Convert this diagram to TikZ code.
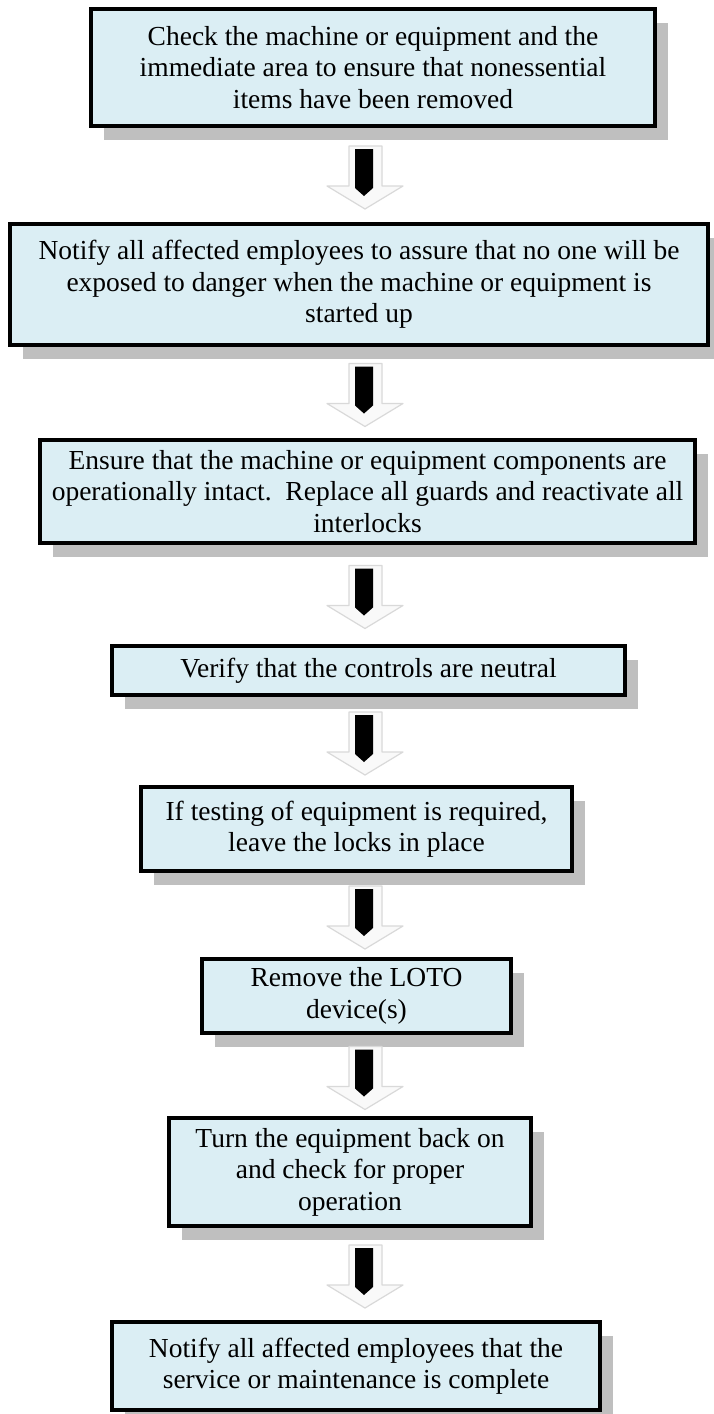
\documentclass[tikz,border=0pt]{standalone}
\usepackage{fontspec}
\setmainfont{Liberation Serif}
\usetikzlibrary{calc,shadows}
\definecolor{boxfill}{HTML}{DBEEF4}
\definecolor{shadowgray}{HTML}{BFBFBF}
\tikzset{
  stepbox/.style={draw=black, line width=4pt, fill=boxfill, align=center,
    inner sep=0pt, font=\fontsize{27.5}{31.5}\selectfont,
    drop shadow={shadow xshift=13pt, shadow yshift=-14pt, fill=shadowgray, opacity=1}},
  arrlight/.style={fill=gray!5, draw=gray!30, line width=1.2pt, line join=round},
  arrdark/.style={fill=black},
}
% block arrow centred (plus 4) between the two boxes, fixed length
\newcommand\flowarr[2]{%
  \coordinate (#1-mid) at ($(365,0 |- #1.south)!0.5!(365,0 |- #2.north)+(0,4)$);
  \coordinate (#1-out) at ($(#1-mid)+(0,-33)$);
  \coordinate (#2-in) at ($(#1-mid)+(0,30)$);
  \filldraw[arrlight] ($(#1-out)+(-16,0)$) -- ($(#1-out)+(17,0)$) -- ($(#2-in)+(17,-23)$)
     -- ($(#2-in)+(38,-23)$) -- (#2-in) -- ($(#2-in)+(-38,-23)$) -- ($(#2-in)+(-16,-23)$) -- cycle;
  \fill[arrdark] ($(#1-out)+(-10,3)$) -- ($(#1-out)+(8,3)$) -- ($(#2-in)+(8,-21)$)
     -- ($(#2-in)+(-1,-13)$) -- ($(#2-in)+(-10,-21)$) -- cycle;
}
\begin{document}
\begin{tikzpicture}[x=1pt,y=-1pt]
\useasboundingbox (0,0) rectangle (713,1414);
\node[stepbox, minimum width=564pt, minimum height=117pt] (b1) at (373,67.5)
  {Check the machine or equipment and the\\immediate area to ensure that nonessential\\items have been removed};
\node[stepbox, minimum width=698pt, minimum height=121pt] (b2) at (359,284.5)
  {Notify all affected employees to assure that no one will be\\exposed to danger when the machine or equipment is\\started up};
\node[stepbox, minimum width=655pt, minimum height=103pt] (b3) at (367.5,491.5)
  {Ensure that the machine or equipment components are\\operationally intact.\ \ Replace all guards and reactivate all\\interlocks};
\node[stepbox, minimum width=513pt, minimum height=49pt] (b4) at (368.5,670.5)
  {Verify that the controls are neutral};
\node[stepbox, minimum width=431pt, minimum height=84pt] (b5) at (356.5,829)
  {If testing of equipment is required,\\leave the locks in place};
\node[stepbox, minimum width=309pt, minimum height=74pt] (b6) at (356.5,996)
  {Remove the LOTO\\device(s)};
\node[stepbox, minimum width=362pt, minimum height=108pt] (b7) at (350,1172)
  {Turn the equipment back on\\and check for proper\\operation};
\node[stepbox, minimum width=488pt, minimum height=88pt] (b8) at (356,1366)
  {Notify all affected employees that the\\service or maintenance is complete};
\flowarr{b1}{b2}
\flowarr{b2}{b3}
\flowarr{b3}{b4}
\flowarr{b4}{b5}
\flowarr{b5}{b6}
\flowarr{b6}{b7}
\flowarr{b7}{b8}
\end{tikzpicture}
\end{document}
